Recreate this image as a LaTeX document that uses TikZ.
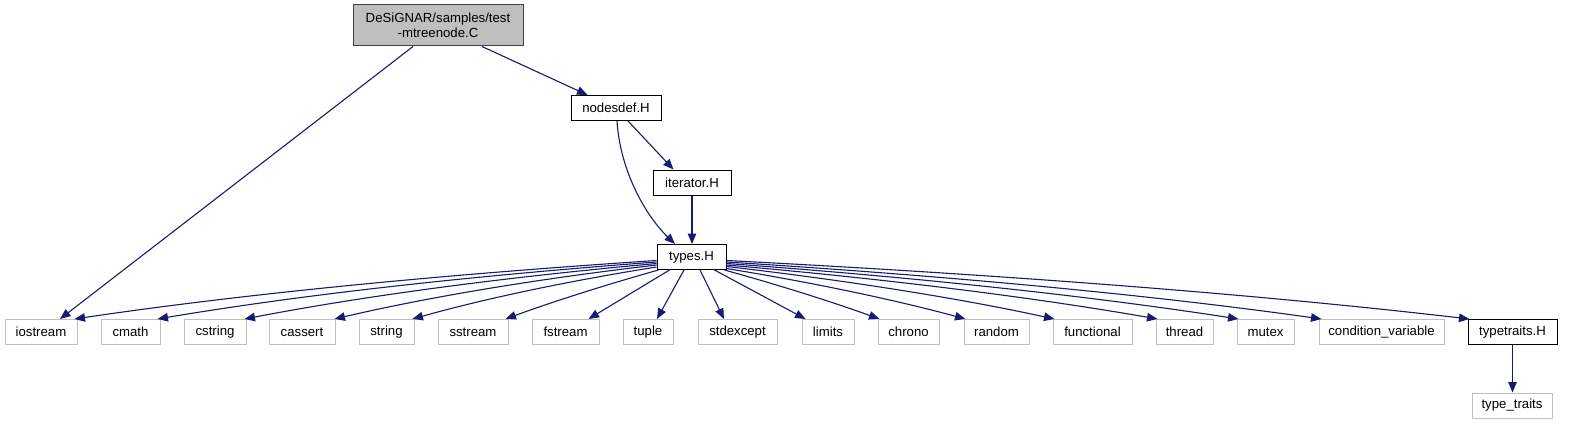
\documentclass[tikz,border=0pt]{standalone}
\usepackage{fontspec}
\setmainfont{Liberation Sans}
\usetikzlibrary{arrows.meta,calc}
\definecolor{edgeblue}{HTML}{191970}
\definecolor{greyseventyfive}{HTML}{BFBFBF}
\definecolor{greytwentyfive}{HTML}{404040}
\tikzset{
  box/.style={draw, rectangle, inner sep=0pt, line width=1pt,
    font=\fontsize{13.2}{15}\selectfont, minimum height=25pt, text=black},
  gbox/.style={box, draw=greyseventyfive},
  bbox/.style={box, draw=black},
  rootbox/.style={box, draw=greytwentyfive, fill=greyseventyfive, align=center},
  dep/.style={draw=edgeblue, line width=1.1pt,
    -{Triangle[length=10.5pt,width=8.5pt]}},
}
% #1 start, #2 end, #3 y-fraction of first control, #4 y-fraction of second control
\newcommand\curvedep[4]{%
  \draw[dep] let \p1=(#1), \p2=(#2) in (\p1)
    .. controls ({\x1+0.387*(\x2-\x1)},{\y1+#3*(\y2-\y1)})
    and ({\x1+0.72*(\x2-\x1)},{\y1+#4*(\y2-\y1)}) .. (\p2);}
\begin{document}
\begin{tikzpicture}[x=1pt,y=-1pt]
\fill[white] (0,0) rectangle (1571,425);
\useasboundingbox (0,0) rectangle (1571,425);

% nodes
\node[rootbox, minimum width=170pt, minimum height=41pt] (root) at (438,25.5)
  {DeSiGNAR/samples/test\\-mtreenode.C};
\node[bbox, minimum width=90pt] (nodesdef) at (616,108) {nodesdef.H};
\node[bbox, minimum width=78pt] (iterator) at (692,182.5) {iterator.H};
\node[bbox, minimum width=69pt] (types) at (691.5,257) {types.H};

\node[gbox, minimum width=72pt] (iostream) at (41,332) {iostream};
\node[gbox, minimum width=59pt] (cmath) at (130.5,332) {cmath};
\node[gbox, minimum width=62pt] (cstring) at (215,332) {cstring};
\node[gbox, minimum width=66pt] (cassert) at (302,332) {cassert};
\node[gbox, minimum width=55pt] (string) at (386.5,332) {string};
\node[gbox, minimum width=70pt] (sstream) at (473,332) {sstream};
\node[gbox, minimum width=67pt] (fstream) at (565.5,332) {fstream};
\node[gbox, minimum width=50pt] (tuple) at (648,332) {tuple};
\node[gbox, minimum width=79pt] (stdexcept) at (737.5,332) {stdexcept};
\node[gbox, minimum width=52pt] (limits) at (828,332) {limits};
\node[gbox, minimum width=61pt] (chrono) at (908.5,332) {chrono};
\node[gbox, minimum width=65pt] (random) at (996.5,332) {random};
\node[gbox, minimum width=79pt] (functional) at (1092.5,332) {functional};
\node[gbox, minimum width=57pt] (thread) at (1184.5,332) {thread};
\node[gbox, minimum width=57pt] (mutex) at (1265.5,332) {mutex};
\node[gbox, minimum width=125pt] (condvar) at (1381.5,332) {condition\_variable};
\node[bbox, minimum width=89pt] (typetraits) at (1512.5,332) {typetraits.H};
\node[gbox, minimum width=80pt] (typetraitsstd) at (1512,405.5) {type\_traits};

% edges from root
\draw[dep] ($(root.south)+(-25,0)$) -- ($(iostream.north)+(19,0)$);
\draw[dep] ($(root.south)+(44,0)$) -- ($(nodesdef.north west)+(17,0)$);

% nodesdef
\draw[dep] ($(nodesdef.south)+(1,0)$) .. controls (620,170) and (645,215) .. ($(types.north)+(-16.5,0)$);
\draw[dep] ($(nodesdef.south)+(12,0)$) -- ($(iterator.north west)+(21,0)$);
\draw[dep] (iterator.south) -- (iterator.south |- types.north);

% types to the left
\curvedep{$(types.south west)+(0,-9.5)$}{$(iostream.north east)+(-3,0)$}{0.253}{0.587}
\curvedep{$(types.south west)+(0,-8)$}{$(cmath.north east)+(-3,0)$}{0.253}{0.587}
\curvedep{$(types.south west)+(0,-6.5)$}{$(cstring.north east)+(-2,0)$}{0.26}{0.6}
\curvedep{$(types.south west)+(0,-5)$}{$(cassert.north east)+(-1,0)$}{0.27}{0.61}
\curvedep{$(types.south west)+(0,-3)$}{$(string.north east)+(-2,0)$}{0.29}{0.63}
\curvedep{$(types.south west)+(2,0)$}{$(sstream.north east)+(-3,0)$}{0.34}{0.68}
\draw[dep] ($(types.south west)+(13,0)$) -- ($(fstream.north east)+(-11,0)$);
\draw[dep] ($(types.south)+(-7.5,0)$) -- ($(tuple.north)+(9,0)$);
% types to the right
\draw[dep] ($(types.south)+(8.5,0)$) -- ($(stdexcept.north)+(-13.5,0)$);
\draw[dep] ($(types.south east)+(-12,0)$) -- ($(limits.north west)+(4,0)$);
\curvedep{$(types.south east)+(-2,0)$}{$(chrono.north west)+(2,0)$}{0.34}{0.68}
\curvedep{$(types.south east)+(0,-1.5)$}{$(random.north west)+(2,0)$}{0.3}{0.64}
\curvedep{$(types.south east)+(0,-3.5)$}{$(functional.north west)+(2,0)$}{0.28}{0.62}
\curvedep{$(types.south east)+(0,-5)$}{$(thread.north west)+(2,0)$}{0.27}{0.61}
\curvedep{$(types.south east)+(0,-6.5)$}{$(mutex.north west)+(2,0)$}{0.26}{0.6}
\curvedep{$(types.south east)+(0,-8)$}{$(condvar.north west)+(3,0)$}{0.253}{0.587}
\curvedep{$(types.south east)+(0,-9.5)$}{$(typetraits.north west)+(2,0)$}{0.253}{0.587}

\draw[dep] (typetraits.south) -- (typetraits.south |- typetraitsstd.north);
\end{tikzpicture}
\end{document}
